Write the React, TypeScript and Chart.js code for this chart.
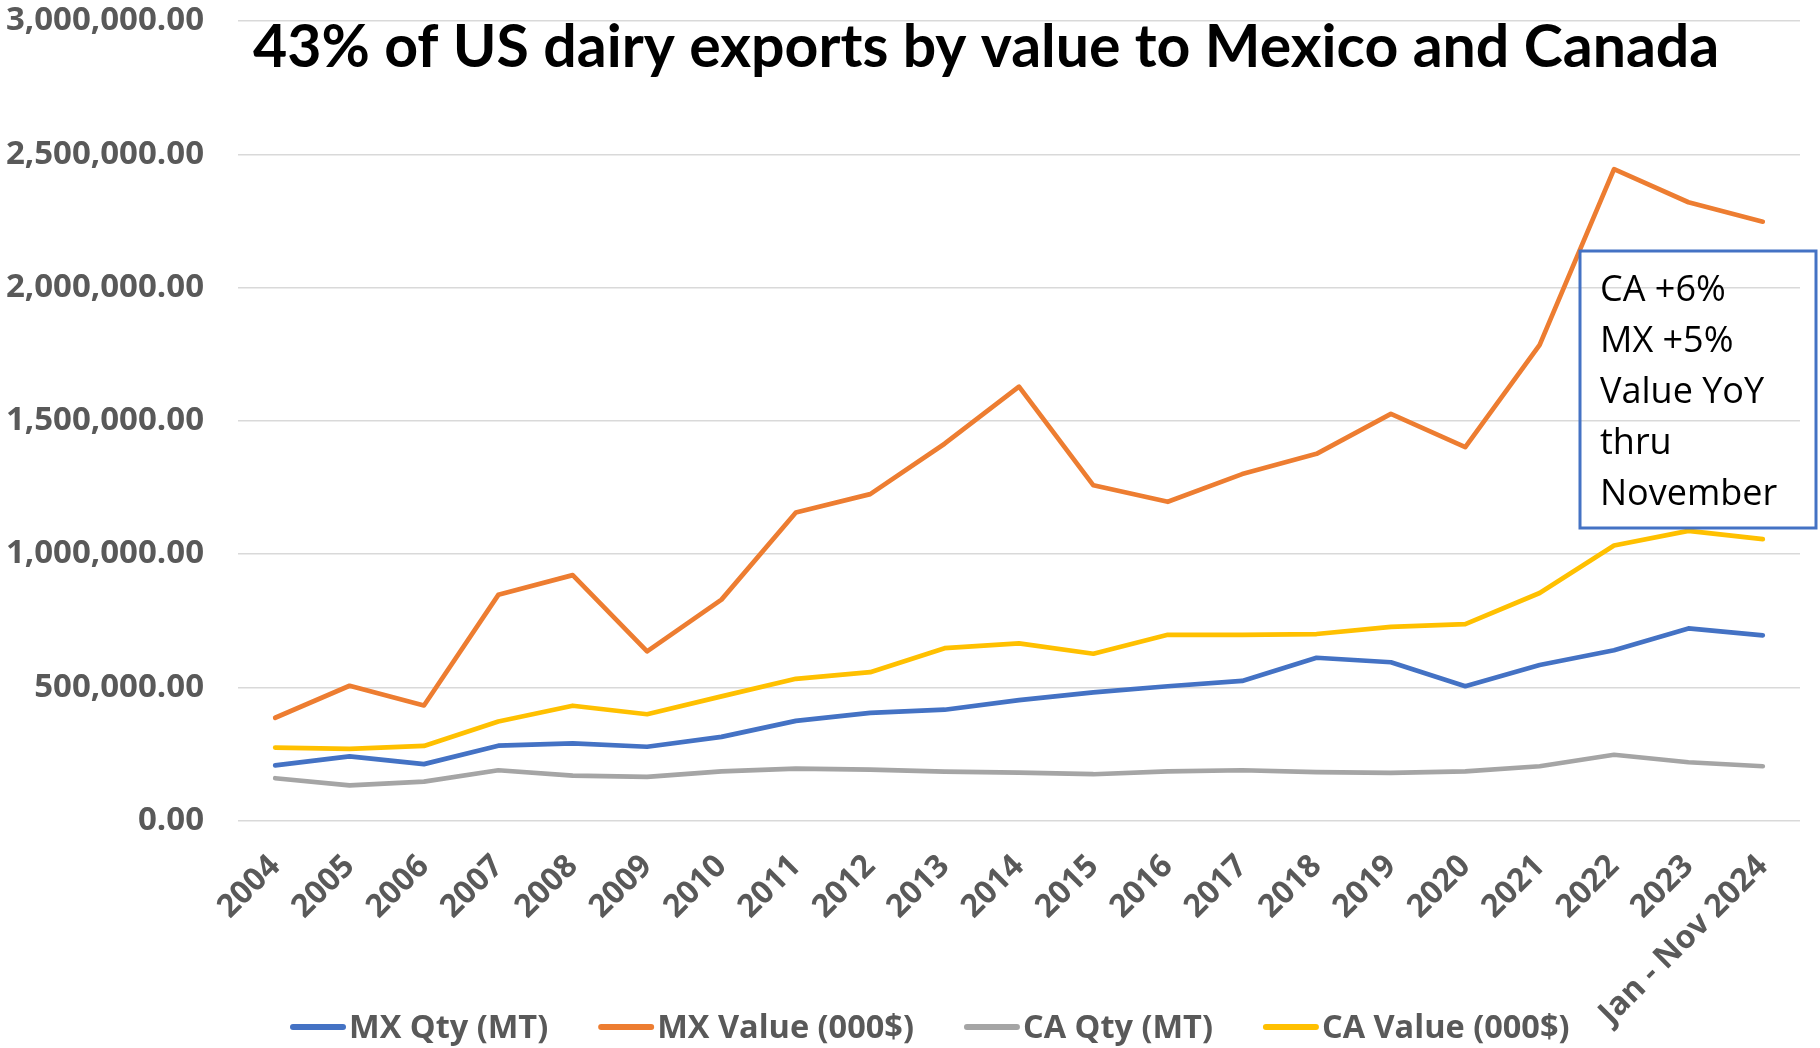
import React, { useEffect, useRef } from 'react';
import { Chart, registerables } from 'chart.js';

Chart.register(...registerables);

const categories = ['2004', '2005', '2006', '2007', '2008', '2009', '2010', '2011', '2012', '2013', '2014', '2015', '2016', '2017', '2018', '2019', '2020', '2021', '2022', '2023', 'Jan - Nov 2024'];

const mxQty = [207000, 241000, 212000, 281000, 290000, 277000, 314000, 374000, 404000, 416000, 452000, 481000, 504000, 524000, 611000, 594000, 504000, 584000, 639000, 721000, 695000];
const mxValue = [386000, 506000, 432000, 847000, 921000, 635000, 829000, 1156000, 1225000, 1414000, 1628000, 1258000, 1196000, 1300000, 1376000, 1526000, 1401000, 1785000, 2444000, 2320000, 2247000];
const caQty = [159000, 132000, 146000, 189000, 169000, 164000, 185000, 195000, 191000, 184000, 180000, 174000, 185000, 189000, 182000, 179000, 185000, 204000, 247000, 219000, 204000];
const caValue = [274000, 269000, 280000, 372000, 431000, 399000, 466000, 532000, 557000, 647000, 665000, 626000, 697000, 697000, 700000, 727000, 737000, 854000, 1032000, 1087000, 1056000];

const seriesLabels = ['MX Qty (MT)', 'MX Value (000$)', 'CA Qty (MT)', 'CA Value (000$)'];
const seriesColors = ['#4472C4', '#ED7D31', '#A5A5A5', '#FFC000'];

const titleText = '43% of US dairy exports by value to Mexico and Canada';
const noteLines = ['CA +6%', 'MX +5%', 'Value YoY', 'thru', 'November'];

const yMin = 0;
const yMax = 3000000;
const yStep = 500000;

const W = 1820;
const H = 1048;

const overlayPlugin = {
  id: 'overlay',
  afterDraw(chart: any) {
    const ctx = chart.ctx as CanvasRenderingContext2D;
    ctx.save();
    // Title
    ctx.font = 'bold 59px Lato';
    ctx.fillStyle = '#000000';
    ctx.textAlign = 'left';
    ctx.textBaseline = 'alphabetic';
    ctx.fillText(titleText, 253, 67);

    // Note box
    ctx.strokeStyle = '#4472C4';
    ctx.lineWidth = 3;
    ctx.strokeRect(1580, 251, 236, 277);
    ctx.font = '36px "Open Sans"';
    ctx.fillStyle = '#000000';
    noteLines.forEach((l, i) => ctx.fillText(l, 1600, 301 + i * 51));

    // Legend
    ctx.font = 'bold 32.5px "Open Sans"';
    let x = 290;
    const yLine = 1027;
    chart.data.datasets.forEach((ds: any) => {
      ctx.strokeStyle = ds.borderColor;
      ctx.lineWidth = 6;
      ctx.lineCap = 'round';
      ctx.beginPath();
      ctx.moveTo(x + 3, yLine);
      ctx.lineTo(x + 53, yLine);
      ctx.stroke();
      ctx.fillStyle = '#595959';
      ctx.textBaseline = 'alphabetic';
      ctx.fillText(ds.label, x + 59, 1038);
      x += 59 + ctx.measureText(ds.label).width + 50;
    });
    ctx.restore();
  },
};

export default function App() {
  const ref = useRef<HTMLCanvasElement | null>(null);

  useEffect(() => {
    document.body.style.margin = '0';
    const canvas = ref.current;
    if (!canvas) return;
    const series = [mxQty, mxValue, caQty, caValue];
    const chart = new Chart(canvas, {
      type: 'line',
      data: {
        labels: categories,
        datasets: series.map((d, i) => ({
          label: seriesLabels[i],
          data: d,
          borderColor: seriesColors[i],
          backgroundColor: seriesColors[i],
          borderWidth: 4.7,
          pointRadius: 0,
          pointHoverRadius: 0,
          tension: 0,
          borderCapStyle: 'round' as const,
          borderJoinStyle: 'round' as const,
          order: 3 - i,
        })),
      },
      options: {
        responsive: false,
        animation: false,
        layout: { padding: { top: 21, left: 5, right: 20, bottom: 0 } },
        plugins: {
          legend: { display: false },
          title: { display: false },
          tooltip: { enabled: false },
        },
        scales: {
          x: {
            offset: true,
            grid: { display: false, drawTicks: false },
            border: { display: false },
            ticks: {
              color: '#595959',
              font: { family: '"Open Sans"', size: 32, weight: 'bold' },
              minRotation: 45,
              maxRotation: 45,
              autoSkip: false,
              padding: 27,
            },
            afterFit: (scale: any) => {
              scale.height = 227.4;
              scale.paddingTop = 0;
            },
          },
          y: {
            min: yMin,
            max: yMax,
            grid: { color: '#D9D9D9', lineWidth: 1.5, drawTicks: false },
            border: { display: false },
            ticks: {
              stepSize: yStep,
              color: '#595959',
              font: { family: '"Open Sans"', size: 33, weight: 'bold' },
              padding: 34,
              callback: (v: any) =>
                Number(v).toLocaleString('en-US', { minimumFractionDigits: 2, maximumFractionDigits: 2 }),
            },
            afterFit: (scale: any) => {
              scale.width = 233;
              scale.paddingTop = 0;
              scale.paddingBottom = 0;
            },
          },
        },
      },
      plugins: [overlayPlugin],
    });
    return () => chart.destroy();
  }, []);

  return (
    <div style={{ width: W, height: H, background: '#ffffff' }}>
      <canvas ref={ref} width={W} height={H} style={{ display: 'block' }} />
    </div>
  );
}
